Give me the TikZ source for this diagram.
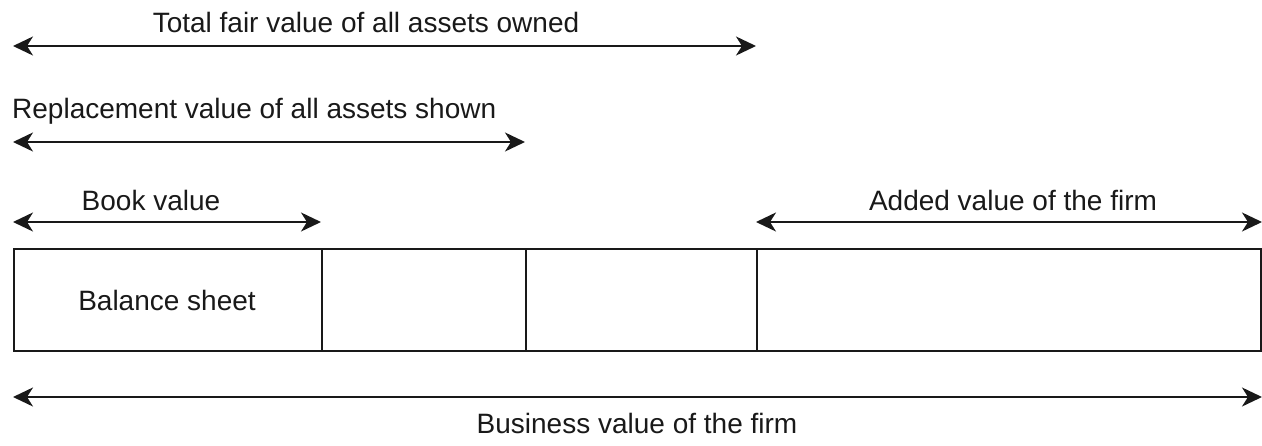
\documentclass[tikz,border=0pt]{standalone}
\usepackage{fontspec}
\setmainfont{Liberation Sans}
\usetikzlibrary{arrows.meta}
\begin{document}
\begin{tikzpicture}[x=1pt,y=-1pt,
  cell/.style={draw=black!90,line width=2pt,anchor=north west,inner sep=0pt,minimum height=102pt},
  span/.style={draw=black!90,line width=2pt,{Stealth[length=20pt,width=19pt,inset=6pt]}-{Stealth[length=20pt,width=19pt,inset=6pt]}},
  lbl/.style={font=\fontsize{28}{32}\selectfont,text=black!90,inner sep=0pt}]
\useasboundingbox (0,0) rectangle (1262,445);
% cells
\node[cell,minimum width=308pt] (c1) at (13,248) {};
\node[cell,minimum width=204pt] (c2) at (321,248) {};
\node[cell,minimum width=231pt] (c3) at (525,248) {};
\node[cell,minimum width=504pt] (c4) at (756,248) {};
\node[lbl] (bs) at (167,300) {Balance sheet};
% arrow ends
\coordinate (t1) at (13,46); \coordinate (t2) at (756,46);
\coordinate (r1) at (13,142); \coordinate (r2) at (525,142);
\coordinate (b1) at (13,222); \coordinate (b2) at (321,222);
\coordinate (a1) at (756,222); \coordinate (a2) at (1262,222);
\coordinate (w1) at (13,397); \coordinate (w2) at (1262,397);
\draw[span] (t1) -- (t2);
\draw[span] (r1) -- (r2);
\draw[span] (b1) -- (b2);
\draw[span] (a1) -- (a2);
\draw[span] (w1) -- (w2);
% labels
\node[lbl] (lt) at (366,22) {Total fair value of all assets owned};
\node[lbl,anchor=west] (lr) at (12,111) {Replacement value of all assets shown};
\node[lbl] (lb) at (151,200) {Book value};
\node[lbl] (la) at (1013,200) {Added value of the firm};
\node[lbl,anchor=base] (lw) at (637,433) {Business value of the firm};
\end{tikzpicture}
\end{document}
